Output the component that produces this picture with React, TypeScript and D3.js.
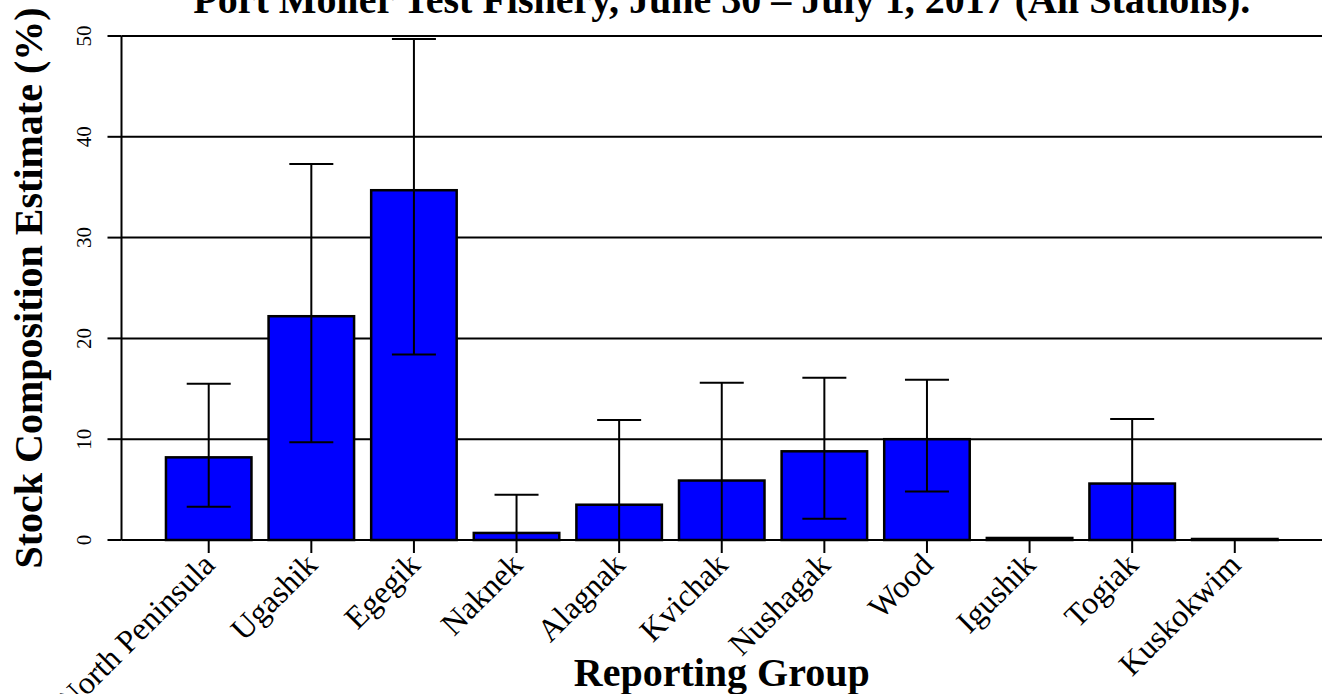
import React from 'react';
import * as d3 from 'd3';

const groups = [
  'North Peninsula', 'Ugashik', 'Egegik', 'Naknek', 'Alagnak', 'Kvichak',
  'Nushagak', 'Wood', 'Igushik', 'Togiak', 'Kuskokwim',
];
const estimates = [8.2, 22.2, 34.7, 0.7, 3.5, 5.9, 8.8, 10.0, 0.2, 5.6, 0.1];
const lower = [3.3, 9.7, 18.4, 0, 0, 0, 2.1, 4.8, 0.2, 0, 0.1];
const upper = [15.5, 37.3, 49.7, 4.5, 11.9, 15.6, 16.1, 15.9, 0.2, 12.0, 0.1];
const yTicks = [0, 10, 20, 30, 40, 50];

const W = 1322;
const H = 694;
const serif = '"Liberation Serif", "Times New Roman", serif';

export default function App() {
  // R barplot style: bars of width 1, space 0.2, axis range padded 4%
  const x = d3.scaleLinear().domain([-0.32, 13.72]).range([121.5, 1322]);
  const y = d3.scaleLinear().domain([0, 50]).range([540, 36]);
  const left = (i: number) => x(0.2 + 1.2 * i);
  const right = (i: number) => x(1.2 + 1.2 * i);
  const mid = (i: number) => x(0.7 + 1.2 * i);
  const cap = 22;

  return (
    <div style={{ position: 'absolute', left: 0, top: 0 }}>
      <svg width={W} height={H} style={{ display: 'block', background: '#fff' }} fontFamily={serif}>
        {/* grid */}
        {yTicks.map(t => (
          <line key={'g' + t} x1={x(-0.32)} x2={W} y1={y(t)} y2={y(t)} stroke="#000" strokeWidth={2} />
        ))}

        {/* bars */}
        {groups.map((g, i) => (
          <rect key={g} x={left(i)} y={y(estimates[i])} width={right(i) - left(i)}
            height={y(0) - y(estimates[i])} fill="#0000ff" stroke="#000" strokeWidth={2.5} />
        ))}

        {/* error bars */}
        {groups.map((g, i) => upper[i] - lower[i] > 0.05 ? (
          <g key={'e' + g} stroke="#000" strokeWidth={2}>
            <line x1={mid(i)} x2={mid(i)} y1={y(lower[i])} y2={y(upper[i])} />
            <line x1={mid(i) - cap} x2={mid(i) + cap} y1={y(upper[i])} y2={y(upper[i])} />
            <line x1={mid(i) - cap} x2={mid(i) + cap} y1={y(lower[i])} y2={y(lower[i])} />
          </g>
        ) : null)}

        {/* y axis */}
        <line x1={x(-0.32)} x2={x(-0.32)} y1={y(0)} y2={y(50)} stroke="#000" strokeWidth={2} />
        {yTicks.map(t => (
          <g key={'yt' + t}>
            <line x1={x(-0.32) - 14} x2={x(-0.32)} y1={y(t)} y2={y(t)} stroke="#000" strokeWidth={2} />
            <text transform={`translate(91,${y(t)}) rotate(-90)`} textAnchor="middle" fontSize={21}>{t}</text>
          </g>
        ))}

        {/* x ticks and labels */}
        {groups.map((g, i) => (
          <g key={'xt' + g}>
            <line x1={mid(i)} x2={mid(i)} y1={y(0)} y2={y(0) + 13} stroke="#000" strokeWidth={2} />
            <text transform={`translate(${mid(i)},559) rotate(-45)`} textAnchor="end"
              dominantBaseline="central" fontSize={32}>{g}</text>
          </g>
        ))}

        {/* titles */}
        <text x={x(6.7)} y={13} textAnchor="middle" fontSize={40} fontWeight="bold">
          Port Moller Test Fishery, June 30 – July 1, 2017 (All Stations).
        </text>
        <text transform={`translate(42,${(y(0) + y(50)) / 2}) rotate(-90)`} textAnchor="middle"
          fontSize={40} fontWeight="bold">Stock Composition Estimate (%)</text>
        <text x={x(6.7)} y={686} textAnchor="middle" fontSize={40} fontWeight="bold">Reporting Group</text>
      </svg>
    </div>
  );
}
